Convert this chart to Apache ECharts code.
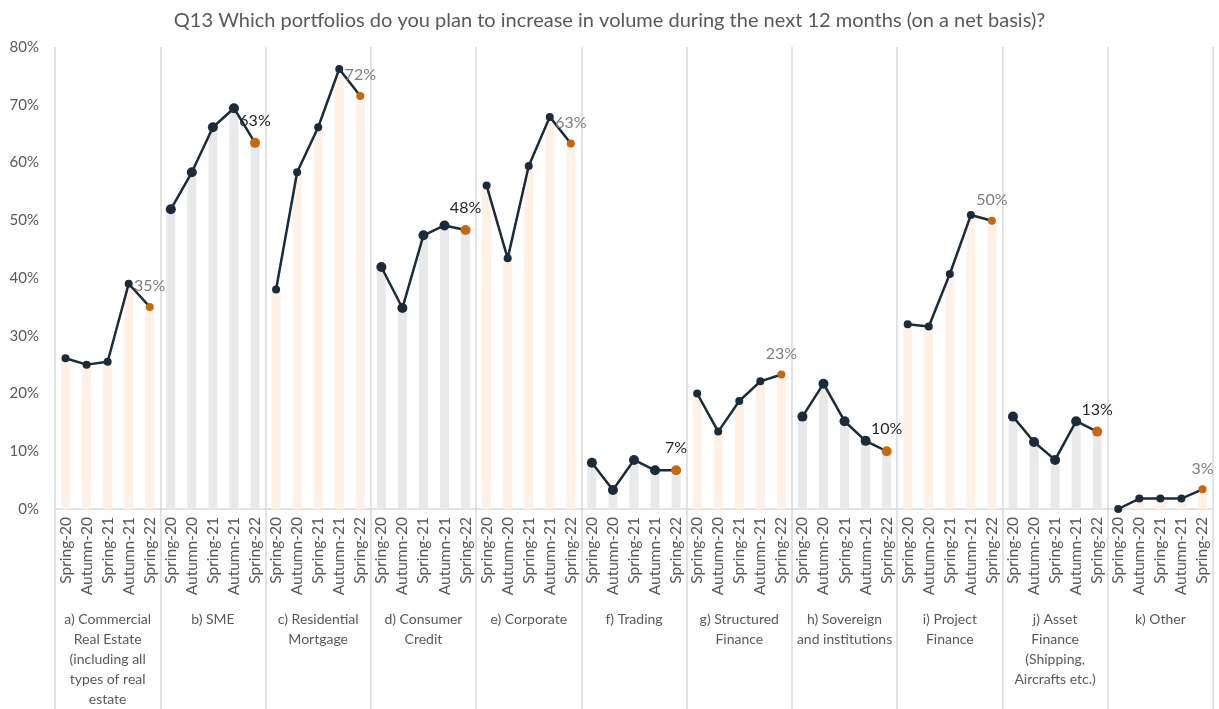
<!DOCTYPE html>
<html>
<head>
<meta charset="utf-8">
<script src="https://cdn.jsdelivr.net/npm/echarts@6/dist/echarts.min.js"></script>
<style>
  html, body { margin: 0; padding: 0; background: #ffffff; }
  #chart { width: 1219px; height: 709px; }
</style>
</head>
<body>
<div id="chart"></div>
<script>
const titleText = 'Q13 Which portfolios do you plan to increase in volume during the next 12 months (on a net basis)?';
const periods = ['Spring-20', 'Autumn-20', 'Spring-21', 'Autumn-21', 'Spring-22'];
const groups = [
  'a) Commercial\nReal Estate\n(including all\ntypes of real\nestate',
  'b) SME',
  'c) Residential\nMortgage',
  'd) Consumer\nCredit',
  'e) Corporate',
  'f) Trading',
  'g) Structured\nFinance',
  'h) Sovereign\nand institutions',
  'i) Project\nFinance',
  'j) Asset\nFinance\n(Shipping,\nAircrafts etc.)',
  'k) Other'
];
const valuesA = [26.1, 25.0, 25.5, 39.0, 35.0];
const valuesB = [51.9, 58.3, 66.1, 69.4, 63.4];
const valuesC = [38.0, 58.3, 66.1, 76.2, 71.5];
const valuesD = [41.9, 34.8, 47.4, 49.1, 48.3];
const valuesE = [56.0, 43.4, 59.4, 67.9, 63.3];
const valuesF = [8.0, 3.3, 8.5, 6.7, 6.7];
const valuesG = [20.0, 13.4, 18.7, 22.1, 23.3];
const valuesH = [16.0, 21.7, 15.2, 11.8, 10.0];
const valuesI = [32.0, 31.6, 40.7, 50.9, 49.9];
const valuesJ = [16.0, 11.6, 8.5, 15.2, 13.4];
const valuesK = [0.0, 1.8, 1.8, 1.8, 3.4];
const yTicks = [0, 10, 20, 30, 40, 50, 60, 70, 80];

const allValues = [valuesA, valuesB, valuesC, valuesD, valuesE, valuesF, valuesG, valuesH, valuesI, valuesJ, valuesK];
const FONT = 'Lato, "Open Sans", sans-serif';
const PEACH = '#fdf1e8';
const GREY = '#e8e9eb';
const NAVY = '#1b2b39';
const ORANGE = '#c5690f';

const cats = [];
groups.forEach((g, gi) => periods.forEach(p => cats.push(p + '|' + gi)));

const barData = [];
allValues.forEach((vals, gi) => vals.forEach(v => barData.push({
  value: v, itemStyle: { color: gi % 2 === 0 ? PEACH : GREY }
})));

const lineSeries = allValues.map((vals, gi) => {
  const big = gi % 2 === 1;
  const data = cats.map(() => null);
  vals.forEach((v, i) => {
    const idx = gi * 5 + i;
    if (i === vals.length - 1) {
      data[idx] = {
        value: v,
        itemStyle: { color: ORANGE },
        label: {
          show: true, position: 'top', distance: 9,
          formatter: p => Math.round(p.value) + '%',
          color: big ? '#262626' : '#7f7f7f',
          fontFamily: FONT, fontSize: 16
        }
      };
    } else {
      data[idx] = v;
    }
  });
  return {
    type: 'line', xAxisIndex: 0, yAxisIndex: 0, data: data,
    symbol: 'circle', symbolSize: big ? 10 : 8,
    showSymbol: true, connectNulls: false, z: 5,
    lineStyle: { color: NAVY, width: 2.5 },
    itemStyle: { color: NAVY },
    emphasis: { disabled: true },
    animation: false
  };
});

const chart = echarts.init(document.getElementById('chart'), null, { renderer: 'canvas' });
chart.setOption({
  animation: false,
  backgroundColor: '#ffffff',
  title: {
    text: titleText, left: 'center', top: 6,
    textStyle: { fontFamily: FONT, fontSize: 20, fontWeight: 'normal', color: '#595959' }
  },
  grid: { left: 55, right: 6, top: 47, bottom: 196, containLabel: false },
  xAxis: [
    {
      type: 'category', data: cats, position: 'bottom',
      axisLine: { show: true, lineStyle: { color: '#d9d9d9', width: 1.5 } },
      axisTick: { show: false },
      axisLabel: {
        interval: 0, rotate: 90, margin: 8,
        formatter: v => v.split('|')[0],
        fontFamily: FONT, fontSize: 15.5, color: '#595959'
      },
      splitLine: { show: false }
    },
    {
      type: 'category', data: groups, position: 'bottom', offset: 0,
      axisLine: { show: false },
      axisTick: { show: true, length: 200, lineStyle: { color: '#d9d9d9', width: 1.5 } },
      axisLabel: {
        interval: 0, margin: 100, lineHeight: 20,
        fontFamily: FONT, fontSize: 14, color: '#595959', align: 'center'
      },
      splitLine: { show: true, lineStyle: { color: '#d9d9d9', width: 1.5 } }
    }
  ],
  yAxis: {
    type: 'value', min: 0, max: 80, interval: 10,
    axisLine: { show: false }, axisTick: { show: false },
    splitLine: { show: false },
    axisLabel: {
      formatter: v => (yTicks.indexOf(v) >= 0 ? v + '%' : ''),
      fontFamily: FONT, fontSize: 15, color: '#595959', margin: 16
    }
  },
  series: [
    {
      type: 'bar', xAxisIndex: 0, yAxisIndex: 0, data: barData,
      barWidth: 9, z: 2, emphasis: { disabled: true }, animation: false
    }
  ].concat(lineSeries)
});
</script>
</body>
</html>
